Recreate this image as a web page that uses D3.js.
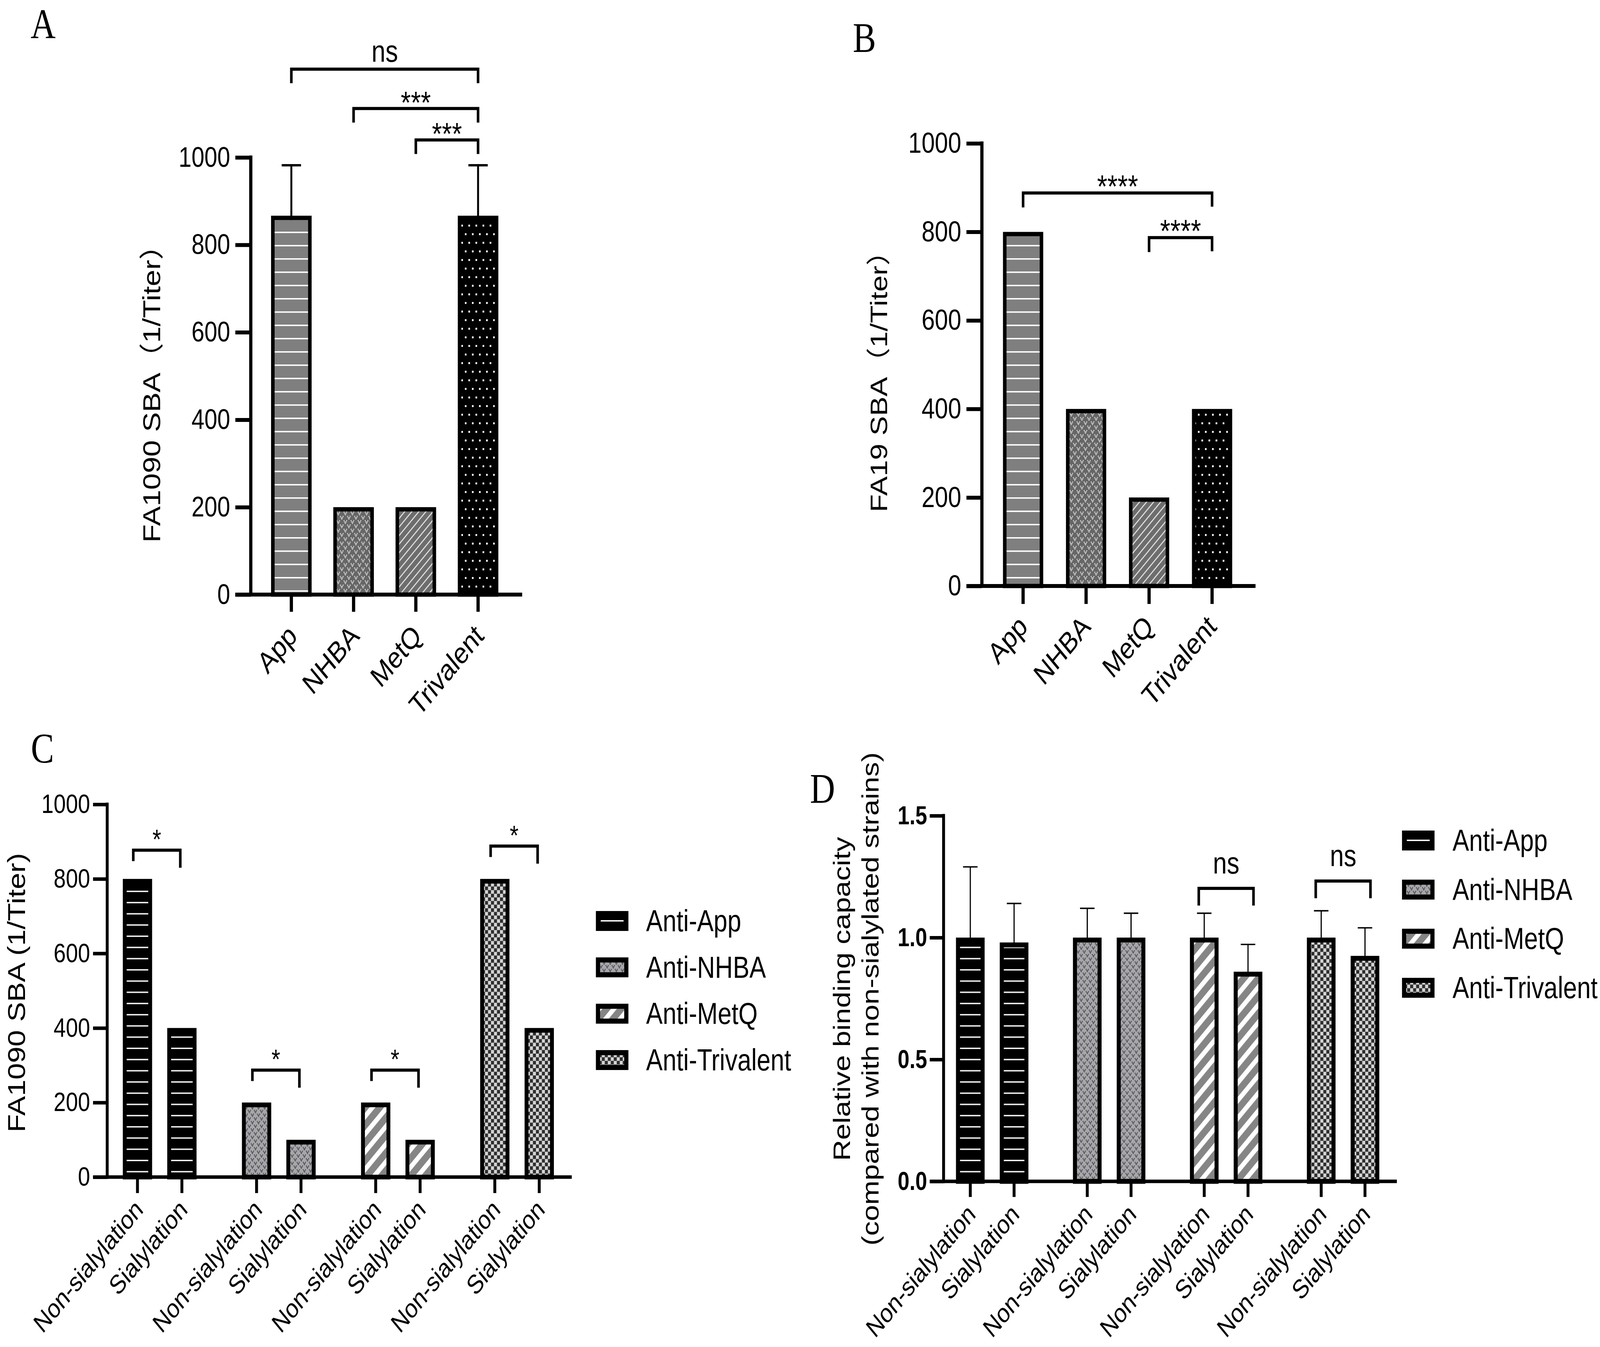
<!DOCTYPE html>
<html><head><meta charset="utf-8">
<script src="https://cdn.jsdelivr.net/npm/d3@7"></script>
<style>html,body{margin:0;padding:0;background:#fff;overflow:hidden;width:100vw;height:100vh}svg{display:block;width:100vw;height:100vh}</style>
</head><body>
<script>
// ---------------- DATA ----------------
const catsAB = ["App", "NHBA", "MetQ", "Trivalent"];
const valuesA = [866.7, 200, 200, 866.7];
const errorsA = [115.5, 0, 0, 115.5];
const valuesB = [800, 400, 200, 400];
const ticksAB = [0, 200, 400, 600, 800, 1000];

const groupsCD = ["Anti-App", "Anti-NHBA", "Anti-MetQ", "Anti-Trivalent"];
const conditions = ["Non-sialylation", "Sialylation"];
const valuesCNon = [800, 200, 200, 800];
const valuesCSia = [400, 100, 100, 400];
const ticksC = [0, 200, 400, 600, 800, 1000];

const valuesDNon = [1.00, 1.00, 1.00, 1.00];
const valuesDSia = [0.98, 1.00, 0.86, 0.925];
const errorsDNon = [0.29, 0.12, 0.10, 0.11];
const errorsDSia = [0.16, 0.10, 0.112, 0.115];
const ticksD = [0, 0.5, 1.0, 1.5];

const sigA = [
  {a: "App", b: "Trivalent", v: 1202, label: "ns"},
  {a: "NHBA", b: "Trivalent", v: 1112, label: "***"},
  {a: "MetQ", b: "Trivalent", v: 1040, label: "***"}
];
const sigB = [
  {a: "App", b: "Trivalent", v: 888, label: "****"},
  {a: "MetQ", b: "Trivalent", v: 787, label: "****"}
];
const sigC = [
  {g: "Anti-App", v: 877, label: "*"},
  {g: "Anti-NHBA", v: 287, label: "*"},
  {g: "Anti-MetQ", v: 287, label: "*"},
  {g: "Anti-Trivalent", v: 888, label: "*"}
];
const sigD = [
  {g: "Anti-MetQ", v: 1.202, label: "ns"},
  {g: "Anti-Trivalent", v: 1.232, label: "ns"}
];

// ---------------- SETUP ----------------
const W = 4970, H = 3448;
const FONT = "'Liberation Sans', Arial, 'Noto Sans CJK SC', sans-serif";
const SERIF = "'Liberation Serif', 'Times New Roman', serif";
const svg = d3.select("body").append("svg")
  .attr("viewBox", `0 0 ${W} ${H}`).attr("preserveAspectRatio", "none");
svg.append("rect").attr("width", W).attr("height", H).attr("fill", "#fff");
const defs = svg.append("defs");

function pat(id, w, h, bg, draw, transform) {
  const p = defs.append("pattern").attr("id", id)
    .attr("patternUnits", "userSpaceOnUse").attr("width", w).attr("height", h);
  if (transform) p.attr("patternTransform", transform);
  p.append("rect").attr("width", w).attr("height", h).attr("fill", bg);
  draw(p);
}
function vMotif(p, ox, oy, s, gap, col) {
  [[0, 0], [2 * gap, 0], [gap * 0.5, gap * 0.85], [gap * 1.5, gap * 0.85], [gap, gap * 1.7]].forEach(([x, y]) =>
    p.append("rect").attr("x", ox + x).attr("y", oy + y).attr("width", s).attr("height", s).attr("fill", col));
}
// Panel A/B patterns
pat("pAppAB", 40, 34, "#7f7f7f", p => p.append("rect").attr("y", 15).attr("width", 40).attr("height", 3.6).attr("fill", "#fff"));
pat("pNhbaAB", 22, 22, "#666", p => { vMotif(p, 0.3, 0.5, 2.8, 4, "#e8e8e8"); vMotif(p, 11.3, 11.5, 2.8, 4, "#e8e8e8"); });
pat("pMetqAB", 15.5, 15.5, "#6d6d6d", p => p.append("rect").attr("width", 3).attr("height", 15.5).attr("fill", "#e0e0e0"), "rotate(45)");
pat("pTriAB", 22, 44, "#000", p => {
  p.append("rect").attr("x", 3).attr("y", 3).attr("width", 5).attr("height", 5).attr("fill", "#fff");
  p.append("rect").attr("x", 14).attr("y", 25).attr("width", 5).attr("height", 5).attr("fill", "#fff");
});
// Panel C/D patterns
pat("pAppCD", 40, 28.7, "#000", p => p.append("rect").attr("y", 12.7).attr("width", 40).attr("height", 3.4).attr("fill", "#fff"));
pat("pNhbaCD", 19, 19, "#a6a6ab", p => { vMotif(p, 0.3, 0.5, 2.4, 3.5, "#2a2a2a"); vMotif(p, 9.8, 10, 2.4, 3.5, "#2a2a2a"); });
pat("pMetqCD", 32, 32, "#858585", p => p.append("rect").attr("width", 13).attr("height", 32).attr("fill", "#fff"), "rotate(45)");
pat("pTriCD", 18.6, 18.6, "#d4d4d4", p => {
  p.append("rect").attr("width", 9.3).attr("height", 9.3).attr("fill", "#2e2e2e");
  p.append("rect").attr("x", 9.3).attr("y", 9.3).attr("width", 9.3).attr("height", 9.3).attr("fill", "#2e2e2e");
});
const patsAB = {App: "pAppAB", NHBA: "pNhbaAB", MetQ: "pMetqAB", Trivalent: "pTriAB"};
const patsCD = {"Anti-App": "pAppCD", "Anti-NHBA": "pNhbaCD", "Anti-MetQ": "pMetqCD", "Anti-Trivalent": "pTriCD"};

// ---------------- HELPERS ----------------
function yAxis(L, y, ticks, fmt, bold) {
  const g = svg.append("g").attr("transform", `translate(${L.axisX},0)`)
    .call(d3.axisLeft(y).tickValues(ticks).tickFormat(fmt).tickSize(L.tick).tickSizeOuter(0).tickPadding(L.pad));
  g.select(".domain").remove();
  g.selectAll(".tick line").attr("stroke", "#000").attr("stroke-width", L.axSW);
  g.selectAll(".tick text").attr("font-family", FONT).attr("font-size", L.fs)
    .attr("font-weight", bold ? "bold" : "normal").attr("fill", "#000");
  svg.append("line").attr("x1", L.axisX).attr("x2", L.axisX)
    .attr("y1", y(ticks[ticks.length - 1]) - L.axSW / 2).attr("y2", y(0) + L.axSW / 2)
    .attr("stroke", "#000").attr("stroke-width", L.axSW);
}
function xAxis(L, y, items) { // items: {x, label}
  svg.append("line").attr("x1", L.axisX - L.tick).attr("x2", L.xEnd)
    .attr("y1", y(0)).attr("y2", y(0)).attr("stroke", "#000").attr("stroke-width", L.axSW);
  const g = svg.append("g");
  g.selectAll("line").data(items).join("line")
    .attr("x1", d => d.x).attr("x2", d => d.x).attr("y1", y(0)).attr("y2", y(0) + L.xtick)
    .attr("stroke", "#000").attr("stroke-width", L.axSW);
  g.selectAll("text").data(items).join("text")
    .attr("transform", d => `translate(${d.x + L.ldx},${y(0) + L.xtick + L.ldy}) rotate(-45)`)
    .attr("text-anchor", "end").attr("font-family", FONT).attr("font-size", L.xfs)
    .attr("fill", "#000").text(d => d.label);
}
function bars(L, y, items) { // items: {x, v, fill}; outer edge of border sits at the value
  svg.append("g").selectAll("rect").data(items).join("rect")
    .attr("x", d => d.x - L.barW / 2).attr("y", d => y(d.v) + L.barSW / 2)
    .attr("width", L.barW).attr("height", d => y(0) - y(d.v) - L.barSW / 2)
    .attr("fill", d => `url(#${d.fill})`).attr("stroke", "#000").attr("stroke-width", L.barSW);
}
function errBars(L, y, items) { // items: {x, v, e}
  const g = svg.append("g").attr("stroke", "#000").attr("stroke-width", L.errSW);
  const f = items.filter(d => d.e > 0);
  g.selectAll("line.v").data(f).join("line").attr("class", "v")
    .attr("x1", d => d.x).attr("x2", d => d.x).attr("y1", d => y(d.v) + L.barSW).attr("y2", d => y(d.v + d.e));
  g.selectAll("line.c").data(f).join("line").attr("class", "c")
    .attr("x1", d => d.x - L.cap / 2).attr("x2", d => d.x + L.cap / 2).attr("y1", d => y(d.v + d.e)).attr("y2", d => y(d.v + d.e));
}
function brackets(L, y, items) { // items: {xa, xb, v, label}
  const g = svg.append("g");
  g.selectAll("path").data(items).join("path")
    .attr("d", d => `M${d.xa + L.brA},${y(d.v) + L.legL} V${y(d.v)} H${d.xb + L.brB} V${y(d.v) + L.legR}`)
    .attr("fill", "none").attr("stroke", "#000").attr("stroke-width", L.brSW);
  g.selectAll("text").data(items).join("text")
    .attr("x", d => (d.xa + L.brA + d.xb + L.brB) / 2)
    .attr("y", d => y(d.v) + (d.label === "ns" ? L.nsDy : L.starDy))
    .attr("text-anchor", "middle").attr("font-family", FONT)
    .attr("font-size", d => d.label === "ns" ? L.nsFs : L.starFs).attr("fill", "#000").text(d => d.label);
}
function yTitle(lines, x, yc, fs) {
  lines.forEach((t, i) => svg.append("text")
    .attr("transform", `translate(${x[i]},${yc}) rotate(-90)`).attr("text-anchor", "middle")
    .attr("font-family", FONT).attr("font-size", fs).attr("fill", "#000").text(t));
}
function panelLetter(t, x, y) {
  svg.append("text").attr("x", x).attr("y", y).attr("font-family", SERIF).attr("font-size", 108).attr("fill", "#000").text(t);
}
function legend(x, ys, textX) {
  const g = svg.append("g");
  groupsCD.forEach((name) => {
    const cy = ys(name);
    g.append("rect").attr("x", x).attr("y", cy - 25).attr("width", 101).attr("height", 51).attr("fill", "#000");
    if (name === "Anti-App") {
      g.append("rect").attr("x", x + 15).attr("y", cy - 1.7).attr("width", 71).attr("height", 3.6).attr("fill", "#fff");
    } else {
      g.append("rect").attr("x", x + 13).attr("y", cy - 12).attr("width", 75).attr("height", 25).attr("fill", `url(#${patsCD[name]})`);
    }
    g.append("text").attr("x", textX).attr("y", cy + 27).attr("font-family", FONT).attr("font-size", 77).attr("fill", "#000").text(name);
  });
}

// ---------------- PANEL A ----------------
const LA = {axisX: 779, xEnd: 1622, tick: 48, pad: 16, axSW: 10, fs: 72, xtick: 44, xfs: 76, ldx: 22, ldy: 66,
  barW: 115, barSW: 11, errSW: 6, cap: 60, legL: 36, legR: 36, brA: 0, brB: 0, brSW: 8, nsDy: -19, starDy: 12, nsFs: 78, starFs: 80};
const yA = d3.scaleLinear().domain([0, 1000]).range([1522, 403]);
const xA = d3.scalePoint().domain(catsAB).range([905, 1485]);
const itemsA = catsAB.map((c, i) => ({x: xA(c), v: valuesA[i], e: errorsA[i], fill: patsAB[c], label: c}));
bars(LA, yA, itemsA);
errBars(LA, yA, itemsA);
yAxis(LA, yA, ticksAB, d3.format("d"), false);
xAxis(LA, yA, itemsA);
brackets(LA, yA, sigA.map(s => ({xa: xA(s.a), xb: xA(s.b), v: s.v, label: s.label})));
yTitle(["FA1090 SBA（1/Titer）"], [497], 989, 76);
panelLetter("A", 95, 98);

// ---------------- PANEL B ----------------
const LB = {axisX: 3050, xEnd: 3900, tick: 48, pad: 16, axSW: 10, fs: 74, xfs: 76, xtick: 46, ldx: 18, ldy: 62,
  barW: 114, barSW: 11, legL: 37, legR: 35, brA: 0, brB: 0, brSW: 8, nsDy: -19, starDy: 11, nsFs: 78, starFs: 82};
const yB = d3.scaleLinear().domain([0, 1000]).range([1500, 367]);
const xB = d3.scalePoint().domain(catsAB).range([3178, 3765]);
const itemsB = catsAB.map((c, i) => ({x: xB(c), v: valuesB[i], fill: patsAB[c], label: c}));
bars(LB, yB, itemsB);
yAxis(LB, yB, ticksAB, d3.format("d"), false);
xAxis(LB, yB, itemsB);
brackets(LB, yB, sigB.map(s => ({xa: xB(s.a), xb: xB(s.b), v: s.v, label: s.label})));
yTitle(["FA19 SBA（1/Titer）"], [2756], 958, 75);
panelLetter("B", 2649, 133);

// ---------------- PANEL C ----------------
const LC = {axisX: 333, xEnd: 1776, tick: 44, pad: 9, axSW: 9, fs: 68, xfs: 68, xtick: 41, ldx: 21, ldy: 46,
  barW: 79, barSW: 12, legL: 28, legR: 45, brA: -13, brB: -5, brSW: 8, nsDy: -19, starDy: -3, nsFs: 74, starFs: 70};
const yC = d3.scaleLinear().domain([0, 1000]).range([3013, 2059]);
const gC = d3.scalePoint().domain(groupsCD).range([496, 1606]);
const cC = d3.scalePoint().domain(conditions).range([-69, 69]);
const itemsC = [];
groupsCD.forEach((g, i) => {
  itemsC.push({x: gC(g) + cC(conditions[0]), v: valuesCNon[i], fill: patsCD[g], label: conditions[0]});
  itemsC.push({x: gC(g) + cC(conditions[1]), v: valuesCSia[i], fill: patsCD[g], label: conditions[1]});
});
bars(LC, yC, itemsC);
yAxis(LC, yC, ticksC, d3.format("d"), false);
xAxis(LC, yC, itemsC);
brackets(LC, yC, sigC.map(s => ({xa: gC(s.g) + cC(conditions[0]), xb: gC(s.g) + cC(conditions[1]), v: s.v, label: s.label})));
yTitle(["FA1090 SBA (1/Titer)"], [78], 2541, 76);
legend(1851, d3.scalePoint().domain(groupsCD).range([2357, 2713]), 2007);
panelLetter("C", 96, 1952);

// ---------------- PANEL D ----------------
const LD = {axisX: 2931, xEnd: 4339, tick: 43, pad: 8, axSW: 9, fs: 66, xfs: 68, xtick: 40, ldx: 20, ldy: 48,
  barW: 76.5, barSW: 12.5, errSW: 3.6, cap: 45, legL: 44, legR: 44, brA: -17, brB: 17, brSW: 8, nsDy: -38, starDy: 0, nsFs: 78, starFs: 70};
const yD = d3.scaleLinear().domain([0, 1.5]).range([3024, 2088]);
const gD = d3.scalePoint().domain(groupsCD).range([3082, 4172]);
const cD = d3.scalePoint().domain(conditions).range([-68, 68]);
const itemsD = [];
groupsCD.forEach((g, i) => {
  itemsD.push({x: gD(g) + cD(conditions[0]), v: valuesDNon[i], e: errorsDNon[i], fill: patsCD[g], label: conditions[0]});
  itemsD.push({x: gD(g) + cD(conditions[1]), v: valuesDSia[i], e: errorsDSia[i], fill: patsCD[g], label: conditions[1]});
});
bars(LD, yD, itemsD);
errBars(LD, yD, itemsD);
yAxis(LD, yD, ticksD, d3.format(".1f"), true);
xAxis(LD, yD, itemsD);
brackets(LD, yD, sigD.map(s => ({xa: gD(s.g) + cD(conditions[0]), xb: gD(s.g) + cD(conditions[1]), v: s.v, label: s.label})));
yTitle(["Relative binding capacity", "(compared with non-sialylated strains)"], [2640, 2729], 2557, 75);
legend(4355, d3.scalePoint().domain(groupsCD).range([2151, 2528]), 4512);
panelLetter("D", 2516, 2055);
</script>
</body></html>
